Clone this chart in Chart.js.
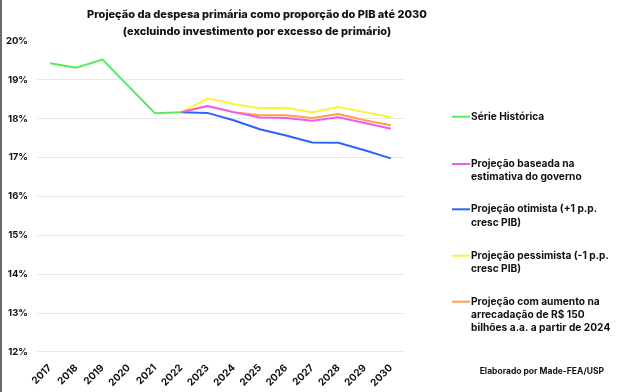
<!DOCTYPE html>
<html>
<head>
<meta charset="utf-8">
<script src="https://cdn.jsdelivr.net/npm/chart.js@4.4.0/dist/chart.umd.min.js"></script>
<style>
html,body{margin:0;padding:0;background:#fff;}
#wrap{width:618px;height:392px;position:relative;}
</style>
</head>
<body>
<div id="wrap"><canvas id="c" width="618" height="392"></canvas></div>
<script>
const years = ['2017','2018','2019','2020','2021','2022','2023','2024','2025','2026','2027','2028','2029','2030'];
const serieHistorica = [19.43, 19.31, 19.52, null, 18.14, 18.17, null, null, null, null, null, null, null, null];
const projGoverno   = [null, null, null, null, null, 18.17, 18.33, 18.17, 18.03, 18.02, 17.95, 18.04, 17.89, 17.74];
const projOtimista  = [null, null, null, null, null, 18.17, 18.15, 17.96, 17.73, 17.57, 17.39, 17.38, 17.19, 16.98];
const projPessimista= [null, null, null, null, null, 18.17, 18.52, 18.38, 18.27, 18.28, 18.17, 18.30, 18.17, 18.04];
const projArrecadacao=[null, null, null, null, null, 18.17, 18.33, 18.17, 18.09, 18.09, 18.02, 18.12, 17.96, 17.83];
const yTicks = [12, 13, 14, 15, 16, 17, 18, 19, 20];
const seriesLabels = [
  ['Série Histórica'],
  ['Projeção baseada na', 'estimativa do governo'],
  ['Projeção otimista (+1 p.p.', 'cresc PIB)'],
  ['Projeção pessimista (-1 p.p.', 'cresc PIB)'],
  ['Projeção com aumento na', 'arrecadação de R$ 150', 'bilhões a.a. a partir de 2024']
];
const titleLines = ['Projeção da despesa primária como proporção do PIB até 2030', '(excluindo investimento por excesso de primário)'];
const creditText = 'Elaborado por Made-FEA/USP';

const colors = ['#55ec5a', '#ee5cee', '#2f63f5', '#f8f53a', '#ffa04e'];
const FONT = 'Inter, "Liberation Sans", sans-serif';

const decor = {
  id: 'decor',
  afterDraw(chart) {
    const ctx = chart.ctx;
    ctx.save();
    ctx.fillStyle = '#6b6b6b';
    ctx.fillRect(0, 0, 2, 392);
    ctx.fillStyle = '#111';
    ctx.textAlign = 'center';
    ctx.textBaseline = 'middle';
    ctx.font = '800 11px ' + FONT;
    ctx.fillText(titleLines[0], 257, 15);
    ctx.fillText(titleLines[1], 257, 32);
    const ys = [116.7, 164, 209.3, 255.7, 301.7];
    ctx.textAlign = 'left';
    ctx.font = 'bold 10.2px ' + FONT;
    chart.data.datasets.forEach((ds, i) => {
      const y = ys[i];
      ctx.strokeStyle = ds.borderColor;
      ctx.lineWidth = 2;
      ctx.beginPath();
      ctx.moveTo(452, y);
      ctx.lineTo(470, y);
      ctx.stroke();
      ctx.fillStyle = '#111';
      seriesLabels[i].forEach((t, j) => ctx.fillText(t, 471, y + j * 13.3));
    });
    ctx.font = 'bold 8.5px ' + FONT;
    ctx.textAlign = 'right';
    ctx.fillText(creditText, 604, 371);
    ctx.restore();
  }
};

new Chart(document.getElementById('c'), {
  type: 'line',
  data: {
    labels: years,
    datasets: [serieHistorica, projGoverno, projOtimista, projPessimista, projArrecadacao].map((d, i) => ({
      label: seriesLabels[i].join(' '),
      data: d,
      borderColor: colors[i],
      backgroundColor: colors[i],
      borderWidth: 2,
      pointRadius: 0,
      tension: 0,
      spanGaps: true
    }))
  },
  options: {
    responsive: false,
    animation: false,
    layout: { padding: { left: 6, right: 214, top: 41, bottom: 1 } },
    plugins: { legend: { display: false }, title: { display: false }, tooltip: { enabled: false } },
    scales: {
      x: {
        offset: true,
        grid: { display: false },
        border: { display: false },
        afterFit(scale) { scale.paddingLeft = 0; scale.paddingRight = 0; },
        ticks: { color: '#111', font: { family: FONT, weight: 'bold', size: 10 }, minRotation: 45, maxRotation: 45, padding: 2 }
      },
      y: {
        min: 12, max: 20,
        afterBuildTicks(scale) { scale.ticks = yTicks.map(v => ({ value: v })); },
        afterFit(scale) { scale.width = 31; },
        grid: { color: ctx => ctx.tick && ctx.tick.value === 20 ? 'rgba(0,0,0,0)' : '#e9e9e9', drawTicks: false, lineWidth: 1 },
        border: { display: false },
        ticks: { color: '#111', padding: 9, font: { family: FONT, weight: 'bold', size: 9.5 }, callback: v => v + '%' }
      }
    }
  },
  plugins: [decor]
});
</script>
</body>
</html>
